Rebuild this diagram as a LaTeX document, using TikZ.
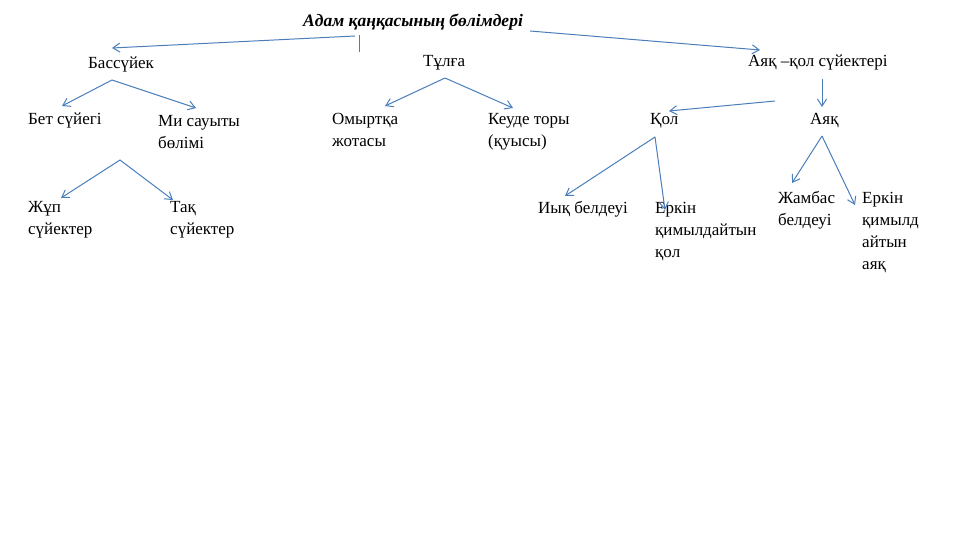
\documentclass[tikz,border=0pt]{standalone}
\usepackage{fontspec}
\setmainfont{Liberation Serif}
\usetikzlibrary{arrows.meta}
\definecolor{arrowc}{HTML}{4A7EBB}
\begin{document}
\begin{tikzpicture}[x=1pt,y=-1pt,
  lab/.style={inner sep=0pt,anchor=north west,align=left,font=\fontsize{17}{22}\selectfont},
  arr/.style={draw=arrowc,line width=1pt,-{Straight Barb[length=7pt,width=9pt]}},
  ln/.style={draw=arrowc,line width=1pt}]
\useasboundingbox (0,0) rectangle (960,540);
\node[lab,anchor=base west,font=\bfseries\itshape\fontsize{17.5}{20}\selectfont] (t) at (303,27) {Адам қаңқасының бөлімдері};
\node[lab] (b) at (88,57) {Бассүйек};
\node[lab] (tu) at (423,55) {Тұлға};
\node[lab] (ak) at (748,55) {Аяқ –қол сүйектері};
\node[lab] (bet) at (28,113) {Бет сүйегі};
\node[lab] (mi) at (158,115) {Ми сауыты\\бөлімі};
\node[lab] (om) at (332,113) {Омыртқа\\жотасы};
\node[lab] (ke) at (488,113) {Кеуде торы\\(қуысы)};
\node[lab] (qol) at (650,113) {Қол};
\node[lab] (ay) at (810,113) {Аяқ};
\node[lab] (zh) at (28,201) {Жұп\\сүйектер};
\node[lab] (taq) at (170,201) {Тақ\\сүйектер};
\node[lab] (iy) at (538,201) {Иық белдеуі};
\node[lab] (er) at (655,202) {Еркін\\қимылдайтын\\қол};
\node[lab] (zhb) at (778,191) {Жамбас\\белдеуі};
\node[lab] (era) at (862,192) {Еркін\\қимылд\\айтын\\аяқ};
\coordinate (c1) at (355,36);
\coordinate (c2) at (530,31);
\coordinate (c3) at (120,160);
\coordinate (c4) at (359,35);
\coordinate (c5) at (359,52);
\draw[arr] (c1) -- (112,48);
\draw[ln] (c4) -- (c5);
\draw[arr] (c2) -- (760,50);
\draw[arr] (112,80) -- (62,106);
\draw[arr] (112,80) -- (196,108);
\draw[arr] (445,78) -- (385,106);
\draw[arr] (445,78) -- (513,108);
\draw[arr] (822,79) -- (822,107);
\draw[arr] (775,101) -- (669,111);
\draw[arr] (c3) -- (61,198);
\draw[arr] (c3) -- (173,200);
\draw[arr] (655,137) -- (565,196);
\draw[arr] (655,137) -- (665,210);
\draw[arr] (822,136) -- (792,183);
\draw[arr] (822,136) -- (855,205);
\end{tikzpicture}
\end{document}
